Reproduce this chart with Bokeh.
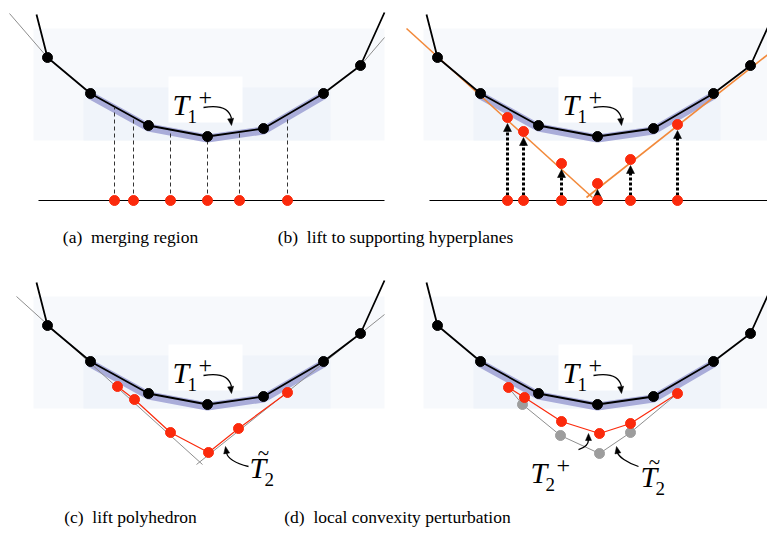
import numpy as np
from bokeh.plotting import figure
from bokeh.models import Range1d
from bokeh.embed import file_html
from bokeh.resources import INLINE
from bokeh.core.properties import value

# ---------------- data (pixel coordinates) ----------------
# upper convex polyline (panel a frame); the other panels are shifted copies
curve_x = [36, 47, 90, 148, 207, 263, 323, 360, 384]
curve_y = [14, 57, 93, 125, 136, 128, 93, 65, 12]
dot_first, dot_last = 1, 7          # vertices drawn as dots
band_first, band_last = 2, 6        # highlighted part T1+

panels = ["a", "b", "c", "d"]
panel_dx = {"a": 0, "b": 390, "c": 0, "d": 390}
panel_dy = {"a": 0, "b": 0, "c": 268, "d": 268}

captions = ["(a)\u2002merging region", "(b)\u2002lift to supporting hyperplanes",
            "(c)\u2002lift polyhedron", "(d)\u2002local convexity perturbation"]
caption_x = [130, 395, 130, 397]
caption_y = [236, 236, 516, 516]

# panel (a): merging region
a_tan_x = [[9, 47], [384, 360]]
a_tan_y = [[13, 57], [37, 65]]
a_base_x = [114, 133, 170, 207, 239, 287]
a_proj_y = [107, 117, 132, 139, 133, 117]
a_line_x = [38, 384]
base_y = 200

# panel (b): lift to supporting hyperplanes
b_plane_x = [[406, 592], [586, 775]]
b_plane_y = [[28, 197], [197, 48]]
b_base_x = [507, 523, 561, 597, 630, 677]
b_lift_y = [117, 131, 163, 183, 159, 124]
b_line_x = [429, 775]

# panel (c): lift polyhedron
c_plane_x = [[16, 202], [384, 196]]
c_plane_y = [[296, 464], [314, 464]]
c_red_x = [117, 134, 170, 208, 238, 287]
c_red_y = [386, 399, 432, 452, 428, 392]

# panel (d): local convexity perturbation
d_red_x = [508, 524, 561, 599, 630, 677]
d_red_y = [387, 397, 421, 433, 423, 393]
d_gray_x = [522, 560, 599, 630]
d_gray_y = [404, 435, 453, 432]

# ---------------- styles ----------------
RED = "#fb2a0c"
BAND = "#a9acd9"
ORANGE = "#f2893a"
GRAY = "#8e8e8e"
SERIF = value("Liberation Serif")

W, H = 767, 539
p = figure(width=W, height=H, x_range=Range1d(0, W), y_range=Range1d(H, 0),
           output_backend="svg", toolbar_location=None,
           x_axis_type=None, y_axis_type=None, min_border=0)
p.outline_line_color = None
p.grid.visible = False


def arrow_head(tip, direction, length=7, width=6):
    d = np.array(direction, float)
    d /= np.linalg.norm(d)
    n = np.array([-d[1], d[0]])
    t = np.array(tip, float)
    b = t - d * length
    pts = [t, b + n * width / 2, b - n * width / 2]
    return [q[0] for q in pts], [q[1] for q in pts]


def curved_arrow(x0, y0, cx0, cy0, cx1, cy1, x1, y1, tip):
    p.bezier(x0=[x0], y0=[y0], cx0=[cx0], cy0=[cy0], cx1=[cx1], cy1=[cy1],
             x1=[x1], y1=[y1], line_color="black", line_width=1.3)
    hx, hy = arrow_head(tip, (tip[0] - cx1, tip[1] - cy1))
    p.patch(hx, hy, fill_color="black", line_color="black", line_width=0.5)


def math_label(x, y, sub, sup=None, tilde=False):
    p.text(x=[x], y=[y], text=["T"], text_font=SERIF, text_font_style="italic",
           text_font_size="30px", text_baseline="alphabetic", text_color="black")
    if tilde:
        p.text(x=[x + 14], y=[y - 15], text=["~"], text_font=SERIF,
               text_font_size="21px", text_align="center", text_baseline="alphabetic",
               text_color="black")
    p.text(x=[x + 15], y=[y + 12], text=[sub], text_font=SERIF,
           text_font_size="19px", text_baseline="alphabetic", text_color="black")
    if sup:
        p.text(x=[x + 26], y=[y - 7], text=[sup], text_font=SERIF,
               text_font_size="24px", text_baseline="alphabetic", text_color="black")


for k in panels:
    dx, dy = panel_dx[k], panel_dy[k]
    cx = [v + dx for v in curve_x]
    cy = [v + dy for v in curve_y]
    # faint background boxes
    p.quad(left=[33 + dx], right=[384 + dx], top=[28 + dy], bottom=[140 + dy],
           fill_color="#f7f9fc", line_color=None)
    p.quad(left=[83 + dx], right=[330 + dx], top=[87 + dy], bottom=[140 + dy],
           fill_color="#f0f4fa", line_color=None)
    p.quad(left=[168 + dx], right=[242 + dx], top=[76 + dy], bottom=[122 + dy],
           fill_color="white", line_color=None)
    # highlighted band
    p.line([v for v in cx[band_first:band_last + 1]],
           [v + 2 for v in cy[band_first:band_last + 1]],
           line_color=BAND, line_width=8, line_join="round", line_cap="round")

# supporting lines
p.multi_line(a_tan_x, a_tan_y, line_color=GRAY, line_width=1)
p.multi_line(c_plane_x, c_plane_y, line_color=GRAY, line_width=1)
p.multi_line(b_plane_x, b_plane_y, line_color=ORANGE, line_width=1.6)

# panel d: previous lift (gray)
p.line([d_red_x[0]] + d_gray_x + [d_red_x[-1]], [d_red_y[0]] + d_gray_y + [d_red_y[-1]],
       line_color=GRAY, line_width=1)

for k in panels:
    dx, dy = panel_dx[k], panel_dy[k]
    cx = [v + dx for v in curve_x]
    cy = [v + dy for v in curve_y]
    p.line(cx, cy, line_color="black", line_width=1.8)

# panel a: projections
p.segment(x0=a_base_x, y0=[base_y] * 6, x1=a_base_x, y1=a_proj_y,
          line_color="#333333", line_width=1, line_dash="4 3")
p.line(a_line_x, [base_y, base_y], line_color="black", line_width=1.2)
p.line(b_line_x, [base_y, base_y], line_color="black", line_width=1.2)

# panel b: lifting arrows
p.segment(x0=b_base_x, y0=[base_y - 5] * 6, x1=b_base_x,
          y1=[min(base_y - 5, v + 13) for v in b_lift_y],
          line_color="black", line_width=3, line_dash="3 2")
for bx, ly in zip(b_base_x, b_lift_y):
    hx, hy = arrow_head((bx, ly + 6), (0, -1), length=8, width=8)
    p.patch(hx, hy, fill_color="black", line_color="black", line_width=0.5)

# red polylines
p.line(c_red_x, c_red_y, line_color=RED, line_width=1.2)
p.line(d_red_x, d_red_y, line_color=RED, line_width=1.2)

# dots
for k in panels:
    dx, dy = panel_dx[k], panel_dy[k]
    p.scatter([v + dx for v in curve_x[dot_first:dot_last + 1]],
              [v + dy for v in curve_y[dot_first:dot_last + 1]],
              size=10, fill_color="black", line_color="black")
p.scatter(d_gray_x, d_gray_y, size=10, fill_color="#9d9d9d", line_color="#9d9d9d")
p.scatter(a_base_x, [base_y] * 6, size=10, fill_color=RED, line_color=RED)
p.scatter(b_base_x, [base_y] * 6, size=10, fill_color=RED, line_color=RED)
p.scatter(b_base_x, b_lift_y, size=10, fill_color=RED, line_color=RED)
p.scatter(c_red_x, c_red_y, size=10, fill_color=RED, line_color=RED)
p.scatter(d_red_x, d_red_y, size=10, fill_color=RED, line_color=RED)

# labels T1+ with arrows
for k in panels:
    dx, dy = panel_dx[k], panel_dy[k]
    math_label(172 + dx, 104 + dy, "1", "+")
    curved_arrow(203 + dx, 107 + dy, 221 + dx, 104 + dy, 229 + dx, 109 + dy,
                 231 + dx, 118 + dy, (231 + dx, 125 + dy))

# panel c: T~2
math_label(249, 467, "2", tilde=True)
curved_arrow(248, 466, 236, 463, 227, 458, 226, 452, (225, 446))
# panel d: T2+ and T~2
math_label(530, 472, "2", "+")
curved_arrow(578, 449, 585, 447, 588, 443, 588, 439, (588, 433))
math_label(640, 476, "2", tilde=True)
curved_arrow(638, 466, 626, 462, 618, 456, 617, 452, (616, 446))

# captions
p.text(x=caption_x, y=caption_y, text=captions, text_font=SERIF,
       text_font_size="17.5px", text_align="center", text_baseline="middle",
       text_color="black")

open("out.html", "w").write(file_html(p, INLINE))
